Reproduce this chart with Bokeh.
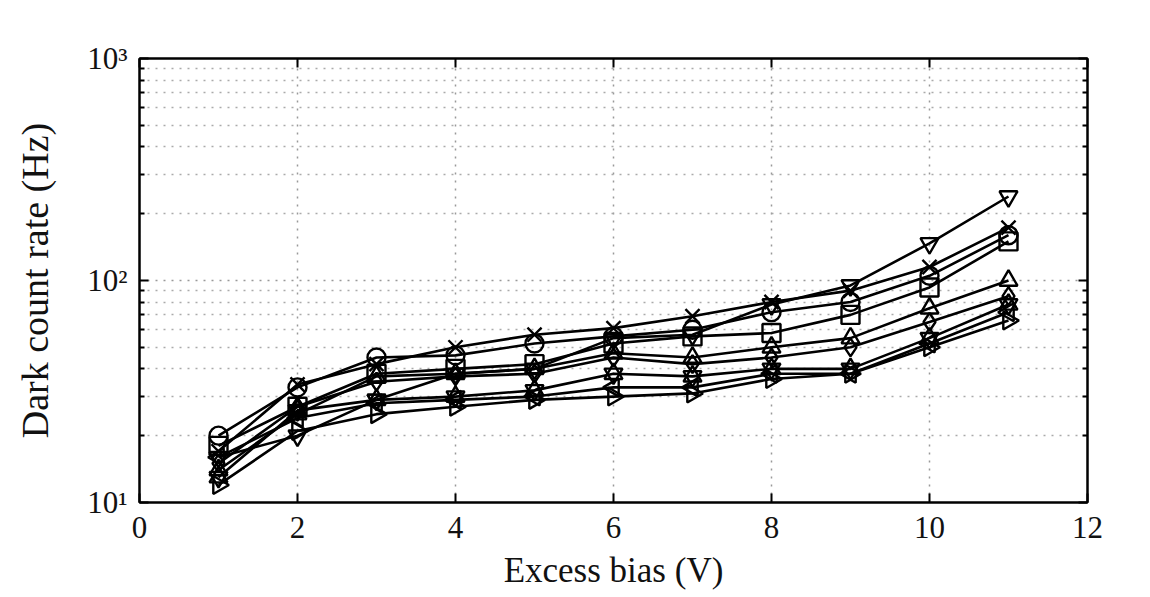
import math
from bokeh.plotting import figure
from bokeh.models import FixedTicker, LinearAxis, LogAxis
from bokeh.embed import file_html
from bokeh.resources import INLINE

bias = [1, 2, 3, 4, 5, 6, 7, 8, 9, 10, 11]

s_circle = [20, 33, 45, 46, 52, 56, 60, 72, 80, 105, 160]
s_x = [17, 34, 42, 50, 57, 61, 69, 80, 90, 115, 173]
s_tri_down = [16, 20, 29, 38, 40, 55, 57, 78, 95, 147, 239]
s_square = [18, 27, 38, 40, 42, 52, 56, 58, 70, 93, 150]
s_tri_up = [14, 25, 37, 38, 40, 47, 45, 50, 55, 75, 100]
s_diamond = [15, 27, 35, 37, 38, 45, 42, 45, 50, 65, 85]
s_hexagram = [13, 26, 29, 30, 32, 38, 37, 40, 40, 55, 78]
s_tri_left = [16, 24, 28, 29, 30, 33, 33, 38, 38, 52, 72]
s_tri_right = [12, 21, 25, 27, 29, 30, 31, 36, 38, 50, 66]

x_ticks = [0, 2, 4, 6, 8, 10, 12]
y_ticks = [10, 100, 1000]
y_tick_labels = {10: "10\u00b9", 100: "10\u00b2", 1000: "10\u00b3"}
y_minor = [m * 10 for m in range(2, 10)] + [m * 100 for m in range(2, 10)]

FONT = "Liberation Serif"

p = figure(
    frame_width=948, frame_height=444,
    x_range=(0, 12), y_range=(10, 1000), y_axis_type="log",
    output_backend="svg", toolbar_location=None,
    min_border_left=139, min_border_top=58, min_border_right=50, min_border_bottom=85,
    background_fill_color="white", border_fill_color="white",
)
p.outline_line_color = "black"
p.outline_line_width = 2

xt = FixedTicker(ticks=x_ticks)
yt = FixedTicker(ticks=y_ticks, minor_ticks=y_minor)

p.xaxis.ticker = xt
p.yaxis.ticker = yt
p.yaxis.major_label_overrides = y_tick_labels

for ax in [p.xaxis[0], p.yaxis[0]]:
    ax.axis_line_color = "black"
    ax.axis_line_width = 2
    ax.major_tick_in = 9
    ax.major_tick_out = 0
    ax.minor_tick_in = 5
    ax.minor_tick_out = 0
    ax.major_tick_line_width = 2
    ax.minor_tick_line_width = 2
    ax.major_label_text_font = FONT
    ax.major_label_text_font_size = "31px"
    ax.major_label_text_color = "#111111"
    ax.axis_label_text_font = FONT
    ax.axis_label_text_font_style = "normal"
    ax.axis_label_text_color = "#111111"
p.xaxis.minor_tick_in = 0
p.xaxis.axis_label = "Excess bias (V)"
p.yaxis.axis_label = "Dark count rate (Hz)"
p.xaxis.axis_label_text_font_size = "35px"
p.yaxis.axis_label_text_font_size = "38px"
p.xaxis.major_label_standoff = 14
p.yaxis.major_label_standoff = 12
p.xaxis.axis_label_standoff = 10
p.yaxis.axis_label_standoff = 28

top = LinearAxis(ticker=xt, major_label_text_font_size="10px", major_label_text_color=None,
                 major_tick_in=9, major_tick_out=0,
                 minor_tick_in=0, minor_tick_out=0, axis_line_width=2, major_tick_line_width=2)
right = LogAxis(ticker=yt, major_label_text_font_size="10px", major_label_text_color=None,
                major_tick_in=9, major_tick_out=0,
                minor_tick_in=5, minor_tick_out=0, axis_line_width=2, major_tick_line_width=2,
                minor_tick_line_width=2)
p.add_layout(top, "above")
p.add_layout(right, "right")

p.xgrid.ticker = xt
p.ygrid.ticker = yt
p.xgrid.grid_line_color = "#999999"
p.xgrid.grid_line_dash = "2 6"
p.xgrid.grid_line_width = 1.5
p.ygrid.grid_line_color = "#999999"
p.ygrid.grid_line_dash = "2 6"
p.ygrid.grid_line_width = 1.5
p.ygrid.minor_grid_line_color = "#aaaaaa"
p.ygrid.minor_grid_line_dash = "2 6"
p.ygrid.minor_grid_line_width = 1.5

series = [
    (s_circle, [("circle", 0)]),
    (s_x, [("x", 0)]),
    (s_tri_down, [("inverted_triangle", 0)]),
    (s_square, [("square", 0)]),
    (s_tri_up, [("triangle", 0)]),
    (s_diamond, [("diamond", 0)]),
    (s_hexagram, [("triangle", 0), ("inverted_triangle", 0)]),
    (s_tri_left, [("triangle", math.pi / 2)]),
    (s_tri_right, [("triangle", -math.pi / 2)]),
]

for vals, markers in series:
    p.line(bias, vals, line_color="black", line_width=2.6)
    for mk, ang in markers:
        sz = 20 if mk == "x" else 18
        p.scatter(bias, vals, marker=mk, angle=ang, size=sz, line_color="black",
                  line_width=2.4, fill_alpha=0)

open("out.html", "w").write(file_html(p, INLINE))
